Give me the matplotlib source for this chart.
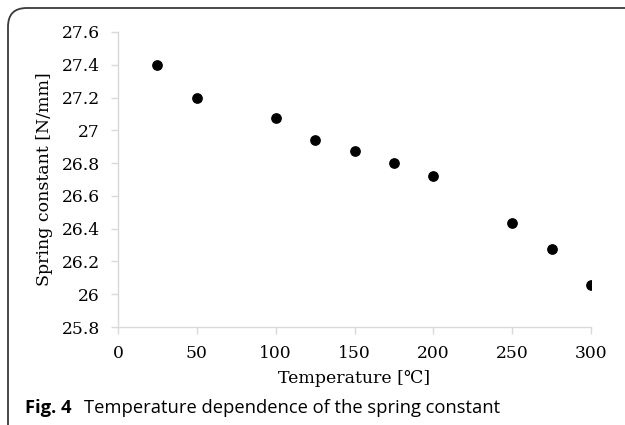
import matplotlib
matplotlib.use('Agg')
import matplotlib.pyplot as plt
from matplotlib.patches import FancyBboxPatch

# --- data
temperature = [25, 50, 100, 125, 150, 175, 200, 250, 275, 300]
spring_const = [27.40, 27.20, 27.075, 26.943, 26.872, 26.80, 26.72, 26.437, 26.276, 26.058]

xticks = [0, 50, 100, 150, 200, 250, 300]
yticks = [25.8, 26.0, 26.2, 26.4, 26.6, 26.8, 27.0, 27.2, 27.4, 27.6]
ytick_labels = ['25.8', '26', '26.2', '26.4', '26.6', '26.8', '27', '27.2', '27.4', '27.6']

serif = ['DejaVu Serif', 'DejaVu Sans']
W, H = 625, 425

fig = plt.figure(figsize=(W / 100, H / 100), dpi=100)
ax = fig.add_axes([118 / W, 1 - 327 / H, (591 - 118) / W, (327 - 32) / H])

ax.scatter(temperature, spring_const, s=45, color='black', zorder=3)

ax.set_xlim(0, 300)
ax.set_ylim(25.8, 27.6)
ax.set_xticks(xticks)
ax.set_yticks(yticks)
ax.set_yticklabels(ytick_labels)

for sp in ['top', 'right']:
    ax.spines[sp].set_visible(False)
for sp in ['left', 'bottom']:
    ax.spines[sp].set_color('#d9d9d9')
    ax.spines[sp].set_linewidth(1.0)
ax.tick_params(colors='#d9d9d9', length=5, width=1.0, labelcolor='black')
for lab in ax.get_xticklabels() + ax.get_yticklabels():
    lab.set_family(serif)
    lab.set_fontsize(12.3)
ax.tick_params(axis='x', pad=8)
ax.tick_params(axis='y', pad=8)

ax.set_xlabel('Temperature [℃]', family=serif, fontsize=12.5, labelpad=6)
ax.set_ylabel('Spring constant [N/mm]', family=serif, fontsize=12.5, labelpad=6)

# --- caption below the plot
fig.text(25 / W, 1 - 408 / H, 'Fig. 4', family='Open Sans', fontweight='bold',
         fontsize=13.2, va='center')
fig.text(84 / W, 1 - 408 / H, 'Temperature dependence of the spring constant',
         family='Open Sans', fontsize=13.2, va='center')

# --- rounded frame around the figure (open to the right and bottom)
frame = FancyBboxPatch((8 / W, -0.2), 1.2, 1.2 - 8 / H,
                       boxstyle='round,pad=0,rounding_size=0.03',
                       transform=fig.transFigure, fill=False,
                       edgecolor='#3a3a3a', linewidth=1.3, clip_on=False,
                       mutation_aspect=W / H)
fig.patches.append(frame)

fig.savefig('out.png', dpi=100)
